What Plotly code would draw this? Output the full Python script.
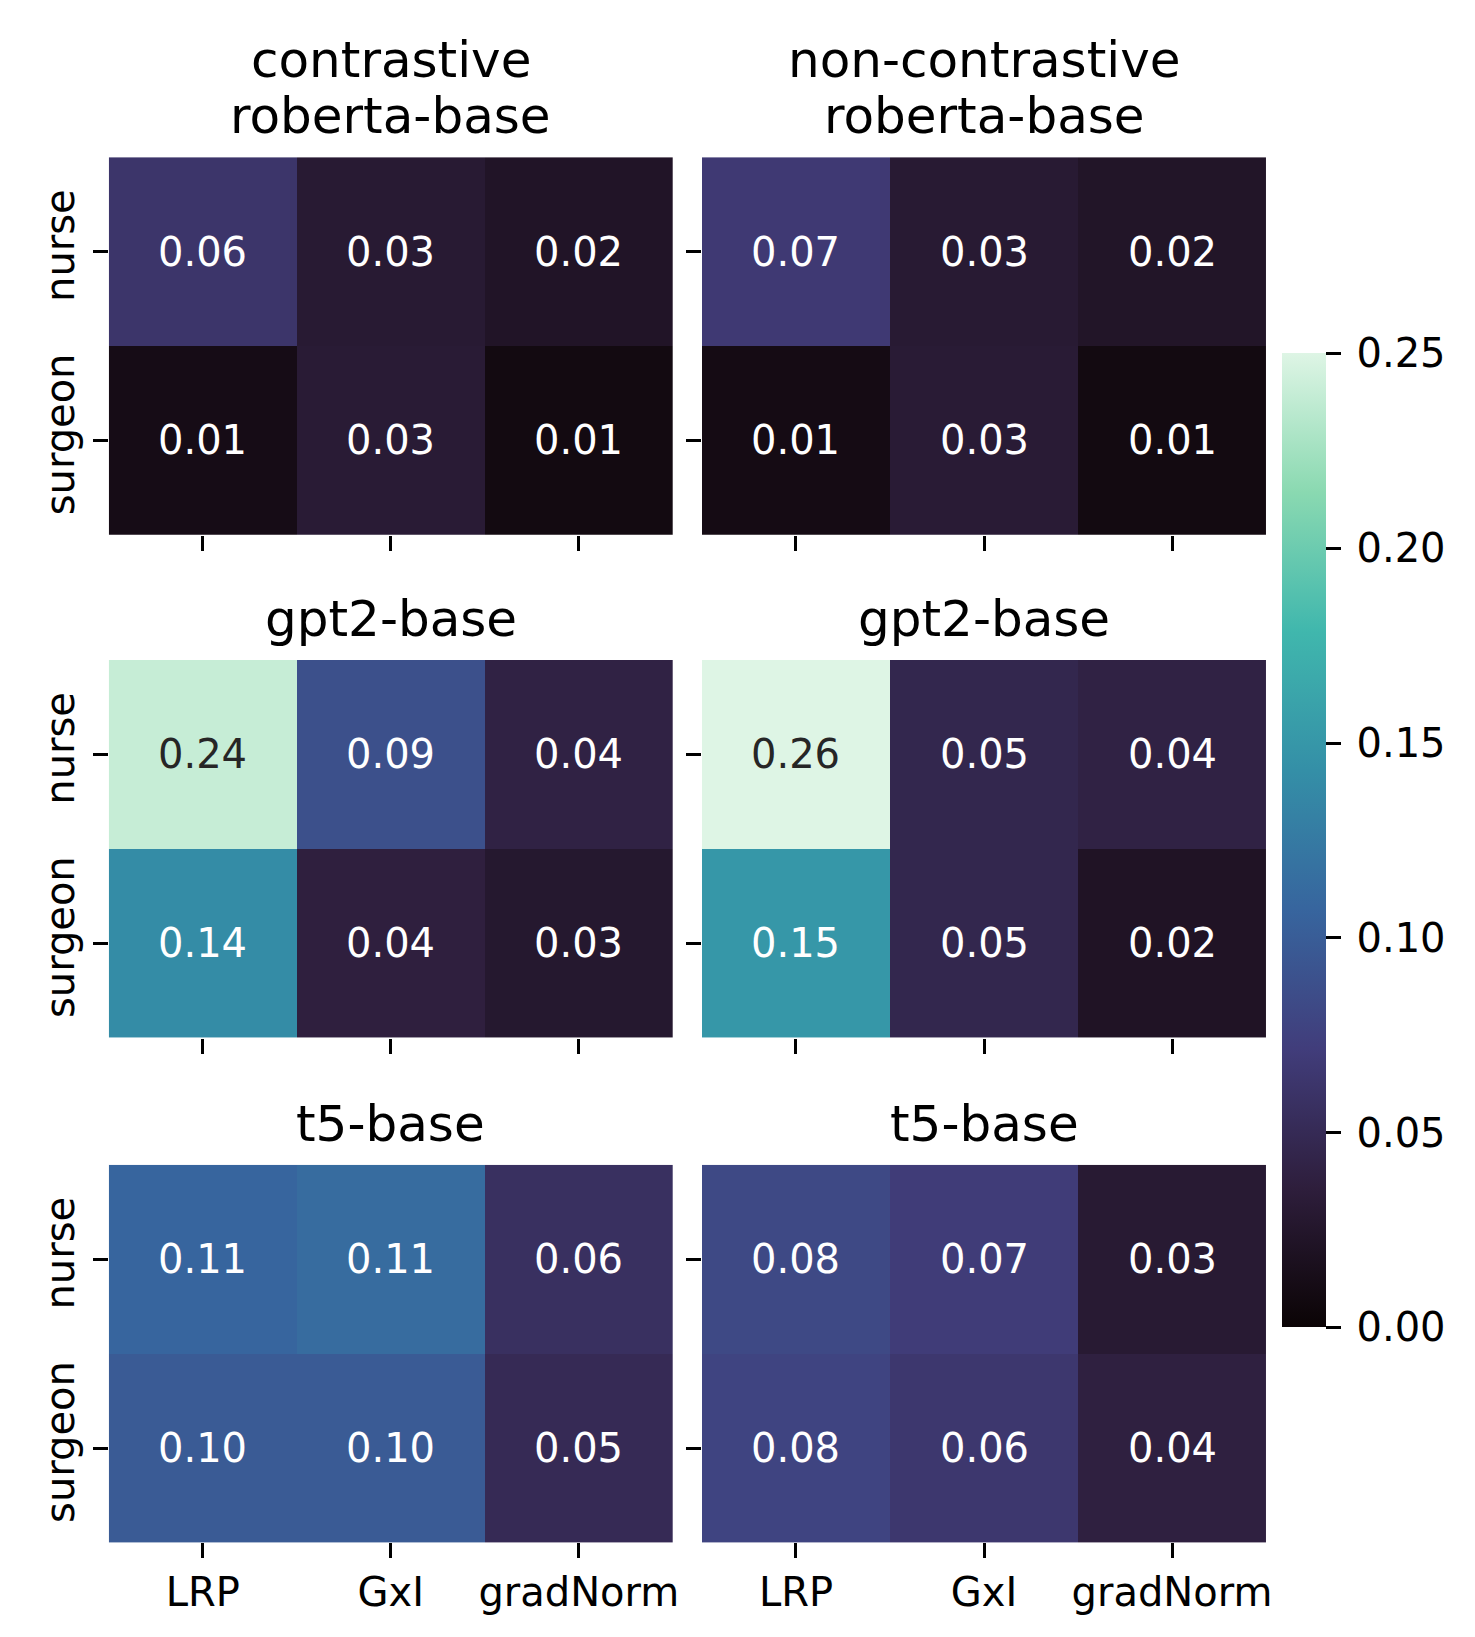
import plotly.graph_objects as go

# ---------------- data ----------------
methods = ["LRP", "GxI", "gradNorm"]
targets = ["nurse", "surgeon"]
panel_titles = [
    ["contrastive", "roberta-base"], ["non-contrastive", "roberta-base"],
    ["gpt2-base"], ["gpt2-base"],
    ["t5-base"], ["t5-base"],
]
contrastive_roberta = [[0.062, 0.030, 0.022], [0.011, 0.031, 0.008]]
noncontrastive_roberta = [[0.067, 0.030, 0.023], [0.010, 0.031, 0.008]]
contrastive_gpt2 = [[0.240, 0.088, 0.040], [0.140, 0.037, 0.027]]
noncontrastive_gpt2 = [[0.260, 0.046, 0.040], [0.150, 0.046, 0.021]]
contrastive_t5 = [[0.107, 0.113, 0.056], [0.098, 0.098, 0.050]]
noncontrastive_t5 = [[0.082, 0.070, 0.030], [0.078, 0.064, 0.038]]
panels = [contrastive_roberta, noncontrastive_roberta,
          contrastive_gpt2, noncontrastive_gpt2,
          contrastive_t5, noncontrastive_t5]
cbar_ticks = [0.0, 0.05, 0.10, 0.15, 0.20, 0.25]
vmin, vmax = 0.0, 0.25

# mako colormap
mako_hex = ["#0B0405", "#2E1E3C", "#413D7B", "#37659E",
            "#348FA7", "#40B7AD", "#8AD9B1", "#DEF5E5"]
colorscale = [[i / (len(mako_hex) - 1), c] for i, c in enumerate(mako_hex)]


def hex2rgb(h):
    h = h.lstrip("#")
    return [int(h[k:k + 2], 16) / 255 for k in (0, 2, 4)]


def cmap(v):
    t = min(max((v - vmin) / (vmax - vmin), 0), 1)
    n = len(mako_hex) - 1
    i = min(int(t * n), n - 1)
    f = t * n - i
    a, b = hex2rgb(mako_hex[i]), hex2rgb(mako_hex[i + 1])
    return [a[k] + (b[k] - a[k]) * f for k in range(3)]


def lum(rgb):
    lin = [c / 12.92 if c <= 0.03928 else ((c + 0.055) / 1.055) ** 2.4 for c in rgb]
    return 0.2126 * lin[0] + 0.7152 * lin[1] + 0.0722 * lin[2]


# ---------------- layout geometry (pixels) ----------------
W, H = 1475, 1637
col_x = [(101.2, 667.6), (696.8, 1263.2)]
row_y = [(149.2, 526.8), (651.9, 1029.6), (1156.8, 1534.4)]
title_line_y = [[52, 108], [611], [1116]]
FONT = "DejaVu Sans"

fig = go.Figure()
layout = dict(
    width=W, height=H, margin=dict(l=0, r=0, t=0, b=0),
    paper_bgcolor="white", plot_bgcolor="white",
    font=dict(family=FONT, color="black"),
    showlegend=False,
    coloraxis=dict(
        cmin=vmin, cmax=vmax, colorscale=colorscale,
        colorbar=dict(
            x=1278.9 / W, xanchor="left", xpad=0,
            y=1 - (345.3 + 1319.5) / 2 / H, yanchor="middle", ypad=0,
            len=974, lenmode="pixels", thickness=44, thicknessmode="pixels",
            outlinewidth=0, ticks="outside", ticklen=15, tickwidth=2.5,
            tickcolor="black",
            tickvals=cbar_ticks,
            ticktext=["\u2009" + f"{t:.2f}" for t in cbar_ticks],
            tickfont=dict(family=FONT, size=40, color="black"),
        ),
    ),
)
annotations = []

for idx, data in enumerate(panels):
    r, c = divmod(idx, 2)
    n = idx + 1
    xa = "x" if n == 1 else f"x{n}"
    ya = "y" if n == 1 else f"y{n}"
    fig.add_trace(go.Heatmap(
        z=data, x=methods, y=targets, coloraxis="coloraxis",
        xaxis=xa, yaxis=ya, hoverinfo="skip",
    ))
    x0, x1 = col_x[c]
    y0, y1 = row_y[r]
    layout["xaxis" if n == 1 else f"xaxis{n}"] = dict(
        domain=[x0 / W, x1 / W], anchor=ya, type="category",
        showgrid=False, zeroline=False, showline=False,
        ticks="outside", ticklen=15, tickwidth=2.5, tickcolor="black",
        showticklabels=(r == 2),
        tickfont=dict(family=FONT, size=40, color="black"),
    )
    layout["yaxis" if n == 1 else f"yaxis{n}"] = dict(
        domain=[1 - y1 / H, 1 - y0 / H], anchor=xa, type="category",
        autorange="reversed",
        showgrid=False, zeroline=False, showline=False,
        ticks="outside", ticklen=15, tickwidth=2.5, tickcolor="black",
        showticklabels=(c == 0), tickangle=-90, ticklabelstandoff=3,
        tickfont=dict(family=FONT, size=40, color="black"),
    )
    # title (one annotation per line)
    for line, ly in zip(panel_titles[idx], title_line_y[r]):
        annotations.append(dict(
            xref="paper", yref="paper", x=(x0 + x1) / 2 / W, y=1 - ly / H,
            xanchor="center", yanchor="middle", showarrow=False,
            text=line, font=dict(family=FONT, size=50, color="black"),
        ))
    # cell annotations
    for i, t in enumerate(targets):
        for j, m in enumerate(methods):
            v = data[i][j]
            col = "#262626" if lum(cmap(v)) > 0.408 else "white"
            annotations.append(dict(
                xref=xa, yref=ya, x=m, y=t, text=f"{v:.2f}", showarrow=False,
                font=dict(family=FONT, size=40, color=col),
            ))

layout["annotations"] = annotations
fig.update_layout(**layout)
fig.write_html("out.html")
